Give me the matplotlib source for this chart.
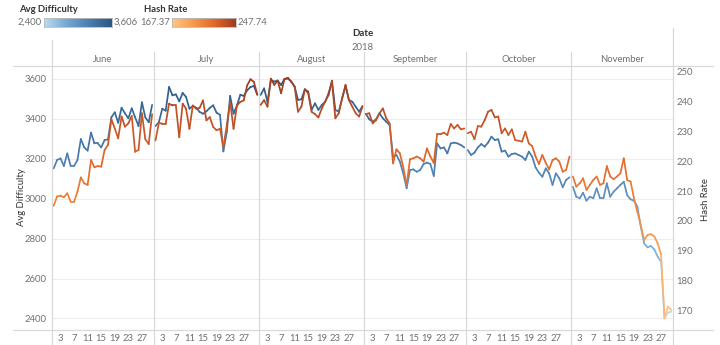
import matplotlib
matplotlib.use("Agg")
import matplotlib.pyplot as plt
import numpy as np
from matplotlib.collections import LineCollection
from matplotlib.colors import LinearSegmentedColormap, Normalize
from matplotlib.lines import Line2D
import matplotlib.transforms as mtransforms

plt.rcParams['font.family'] = ['Lato', 'DejaVu Sans']

# ---------------- data ----------------
months = ["June", "July", "August", "September", "October", "November"]
month_days = [30, 31, 31, 30, 31, 30]
tick_days = [3, 7, 11, 15, 19, 23, 27]

june_diff = [3152, 3194, 3202, 3164, 3227, 3164, 3164, 3194, 3299, 3257, 3241, 3331, 3277, 3277, 3257,
             3294, 3297, 3408, 3433, 3381, 3456, 3428, 3403, 3453, 3408, 3364, 3483, 3408, 3383, 3470]
july_diff = [3364, 3384, 3451, 3441, 3560, 3518, 3523, 3488, 3530, 3510, 3451, 3465, 3456, 3435, 3426,
             3438, 3455, 3468, 3431, 3421, 3237, 3334, 3515, 3426, 3468, 3521, 3515, 3543, 3560, 3565, 3521]
aug_diff = [3520, 3553, 3486, 3595, 3587, 3592, 3570, 3600, 3606, 3587, 3562, 3495, 3498, 3548, 3537,
            3445, 3478, 3445, 3470, 3486, 3528, 3587, 3445, 3436, 3503, 3565, 3495, 3486, 3461, 3436, 3465]
sep_diff = [3425, 3398, 3386, 3398, 3428, 3403, 3386, 3369, 3211, 3219, 3186, 3127, 3052, 3144, 3147,
            3135, 3144, 3174, 3181, 3174, 3114, 3277, 3252, 3257, 3227, 3277, 3281, 3277, 3269, 3257]
oct_diff = [3244, 3219, 3231, 3257, 3274, 3261, 3281, 3311, 3294, 3298, 3236, 3241, 3211, 3224, 3227,
            3219, 3211, 3194, 3236, 3211, 3157, 3130, 3110, 3152, 3127, 3069, 3127, 3102, 3057, 3094, 3107]
nov_diff = [3060, 3010, 3002, 3030, 2990, 3010, 3002, 3052, 3002, 3002, 3077, 3010, 3035, 3052, 3069,
            3085, 3018, 2997, 2990, 2960, 2860, 2776, 2756, 2763, 2746, 2709, 2684, 2400, 2429, 2434]

june_hash = [205.1, 208.2, 208.5, 207.9, 209.3, 206.5, 206.5, 209.8, 214.6, 212.6, 212.1, 220.4, 218.0, 218.4, 218.2,
             223.8, 225.5, 234.1, 231.0, 227.7, 235.0, 231.6, 232.7, 235.2, 223.2, 223.8, 236.1, 227.4, 225.8, 235.8]
july_hash = [227.0, 232.9, 232.6, 232.6, 239.3, 238.7, 238.7, 228.1, 239.3, 237.6, 230.9, 238.7, 237.6, 237.9, 240.4,
             233.7, 234.8, 231.5, 230.4, 230.9, 224.8, 232.0, 239.9, 230.9, 238.7, 239.9, 240.4, 245.4, 247.5, 246.6, 242.3]
aug_hash = [238.9, 240.5, 238.3, 247.7, 245.6, 247.0, 242.8, 247.5, 247.74, 246.7, 245.0, 236.6, 238.3, 244.1, 242.8,
            236.6, 235.8, 234.7, 237.7, 240.0, 242.2, 247.0, 234.4, 236.1, 241.1, 245.6, 240.5, 238.3, 236.1, 235.0, 238.3]
sep_hash = [235.8, 236.1, 232.7, 233.8, 236.1, 237.7, 234.4, 232.7, 219.3, 224.0, 222.7, 218.2, 212.1, 220.7, 221.0,
            221.6, 221.0, 219.9, 224.3, 221.6, 219.5, 229.1, 229.1, 229.6, 228.8, 232.5, 231.0, 232.2, 230.7, 231.0]
oct_hash = [229.4, 229.9, 227.4, 231.8, 231.6, 233.8, 236.6, 237.2, 234.7, 235.0, 229.4, 231.0, 228.8, 230.7, 227.1,
            226.9, 226.6, 229.9, 226.0, 225.1, 221.6, 219.1, 222.1, 219.5, 217.3, 220.4, 221.0, 219.9, 216.5, 217.1, 221.6]
nov_hash = [214.9, 211.5, 212.6, 214.3, 210.4, 212.1, 213.7, 214.9, 212.1, 212.6, 218.4, 214.9, 214.0, 214.9, 216.0,
            221.0, 213.7, 213.2, 207.6, 203.1, 198.7, 193.6, 195.3, 195.6, 194.8, 192.5, 188.6, 167.37, 171.3, 170.2]

diff_series = [june_diff, july_diff, aug_diff, sep_diff, oct_diff, nov_diff]
hash_series = [june_hash, july_hash, aug_hash, sep_hash, oct_hash, nov_hash]

diff_range = (2400, 3606)
hash_range = (167.37, 247.74)
diff_ticks = [2400, 2600, 2800, 3000, 3200, 3400, 3600]
hash_ticks = [170, 180, 190, 200, 210, 220, 230, 240, 250]

# ---------------- style ----------------
W, H = 720, 345
blue_cmap = LinearSegmentedColormap.from_list("tblue", ["#b9ddf1", "#76a8d2", "#4a7eb0", "#2a5783"])
orange_cmap = LinearSegmentedColormap.from_list("torange", ["#ffc685", "#f69a4c", "#e0672a", "#9e3d22"])
grid_c = "#ededed"
line_c = "#d9d9d9"
txt_c = "#707070"
dark_c = "#333333"

fig = plt.figure(figsize=(W / 100, H / 100), dpi=100)

def fx(px):
    return px / W

def fy(py):
    return 1 - py / H

ax_left, ax_right, ax_top, ax_bot = 52, 673, 66, 330
ax = fig.add_axes([fx(ax_left), fy(ax_bot), fx(ax_right - ax_left), (ax_bot - ax_top) / H])
ax2 = ax.twinx()

offsets = np.concatenate([[0], np.cumsum(month_days)])
total = offsets[-1]

def draw_series(axis, series, cmap, rng):
    norm = Normalize(*rng)
    for k, vals in enumerate(series):
        vals = np.asarray(vals, dtype=float)
        xs = offsets[k] + np.arange(1, len(vals) + 1) - 0.5
        pts = np.column_stack([xs, vals]).reshape(-1, 1, 2)
        segs = np.concatenate([pts[:-1], pts[1:]], axis=1)
        mids = (vals[:-1] + vals[1:]) / 2
        lc = LineCollection(segs, colors=cmap(norm(mids)), linewidths=1.25,
                            capstyle="round", joinstyle="round")
        axis.add_collection(lc)

ylo_d = 3600 - (ax_bot - 79) / 0.1995
yhi_d = 3600 + (79 - ax_top) / 0.1995
ylo_h = 200 - (ax_bot - 221) / 2.985
yhi_h = 200 + (221 - ax_top) / 2.985

ax.set_xlim(0, total)
ax.set_ylim(ylo_d, yhi_d)
ax2.set_ylim(ylo_h, yhi_h)

for v in diff_ticks:
    ax.axhline(v, color=grid_c, lw=0.8, zorder=0)

draw_series(ax, diff_series, blue_cmap, diff_range)
draw_series(ax2, hash_series, orange_cmap, hash_range)

for a in (ax, ax2):
    for s in a.spines.values():
        s.set_visible(False)
    a.patch.set_visible(False)

ax.set_yticks(diff_ticks)
ax.set_yticklabels([str(v) for v in diff_ticks])
ax.tick_params(axis="y", length=0, pad=4, labelsize=6.8, labelcolor=txt_c)
ax2.set_yticks(hash_ticks)
ax2.set_yticklabels([str(v) for v in hash_ticks])
ax2.tick_params(axis="y", length=0, pad=2.5, labelsize=6.8, labelcolor=txt_c)

xt, xl = [], []
for k in range(len(months)):
    for d in tick_days:
        xt.append(offsets[k] + d - 0.5)
        xl.append(str(d))
ax.set_xticks(xt)
ax.set_xticklabels(xl)
ax.tick_params(axis="x", length=0, pad=3, labelsize=6.8, labelcolor=txt_c)

# vertical dividers (extend into header and tick area)
tr = mtransforms.blended_transform_factory(ax.transData, fig.transFigure)
for k, b in enumerate(offsets):
    top = 52 if 0 < k < len(months) else (40 if k == 0 else 28)
    ax.add_line(Line2D([b, b], [fy(top), 0], transform=tr, color=line_c, lw=0.9, clip_on=False))

# horizontal frame lines
for py in (ax_top, ax_bot):
    fig.add_artist(Line2D([fx(13), fx(713)], [fy(py), fy(py)], color=line_c, lw=0.9))

# header
mid = fx((ax_left + ax_right) / 2)
fig.text(mid, fy(34), "Date", ha="center", va="center", fontsize=7, color=dark_c, fontweight="bold")
fig.text(mid, fy(47), "2018", ha="center", va="center", fontsize=6.8, color=txt_c)
for k, m in enumerate(months):
    xc = (offsets[k] + offsets[k + 1]) / 2
    ax.text(xc, fy(59), m, transform=tr, ha="center", va="center", fontsize=6.8, color=txt_c)

fig.text(fx(22), fy(197), "Avg Difficulty", rotation=90, ha="center", va="center", fontsize=6.8, color=dark_c)
fig.text(fx(705), fy(200), "Hash Rate", rotation=90, ha="center", va="center", fontsize=6.8, color=dark_c)

# legends
def legend(title, x_title, lo_txt, hi_txt, x_lo, bar_x0, bar_x1, x_hi, cmap):
    fig.text(fx(x_title), fy(10), title, ha="left", va="center", fontsize=6.8, color=dark_c, fontweight="bold")
    fig.text(fx(x_lo), fy(22.5), lo_txt, ha="right", va="center", fontsize=6.8, color=txt_c)
    fig.text(fx(x_hi), fy(22.5), hi_txt, ha="left", va="center", fontsize=6.8, color=txt_c)
    bax = fig.add_axes([fx(bar_x0), fy(27), fx(bar_x1 - bar_x0), 9 / H])
    bax.imshow(np.linspace(0, 1, 256)[None, :], aspect="auto", cmap=cmap)
    bax.set_xticks([])
    bax.set_yticks([])
    for s in bax.spines.values():
        s.set_color("#bbbbbb")
        s.set_linewidth(0.6)

legend("Avg Difficulty", 19, "2,400", "3,606", 42, 44, 112, 114, blue_cmap)
legend("Hash Rate", 144, "167.37", "247.74", 170, 172, 236, 238, orange_cmap)

fig.savefig("out.png", dpi=100)
